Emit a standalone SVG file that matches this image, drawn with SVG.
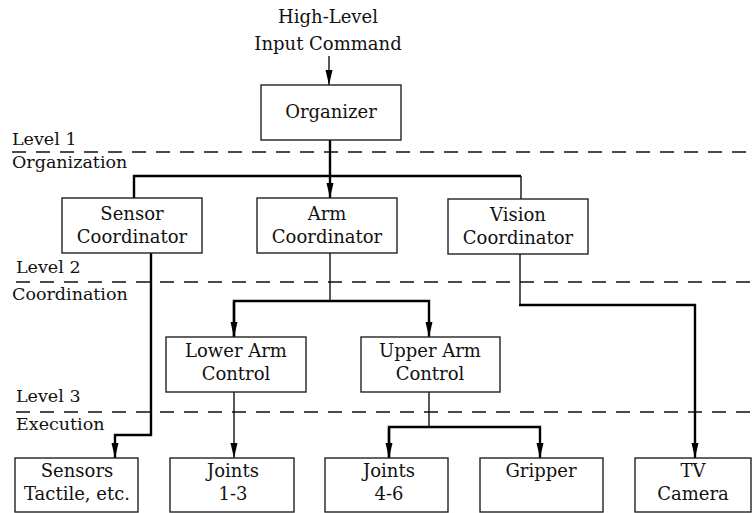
<svg xmlns="http://www.w3.org/2000/svg" width="752" height="513" viewBox="0 0 752 513">
<defs>
<marker id="arr" markerUnits="userSpaceOnUse" markerWidth="16" markerHeight="8" refX="15" refY="3.5" orient="auto">
<path d="M0,0 L15,3.5 L0,7 Z" fill="#000"/>
</marker>
</defs>
<rect width="752" height="513" fill="#fff"/>
<g id="levels" font-family="DejaVu Serif" font-size="17.5" fill="#111">
<g stroke="#111" stroke-width="1.4" stroke-dasharray="14 10" fill="none">
<line x1="12" y1="152" x2="752" y2="152"/>
<line x1="16" y1="282" x2="752" y2="282"/>
<line x1="16" y1="412" x2="752" y2="412"/>
</g>
<text x="12" y="145">Level 1</text>
<text x="12" y="168">Organization</text>
<text x="16" y="273">Level 2</text>
<text x="12" y="300">Coordination</text>
<text x="16" y="402">Level 3</text>
<text x="16" y="430">Execution</text>
</g>
<g id="input" font-family="DejaVu Serif" font-size="18" fill="#111" text-anchor="middle">
<text x="328" y="23">High-Level</text>
<text x="328" y="50">Input Command</text>
</g>
<g id="connectors" fill="none">
<g stroke="#111" stroke-width="1.4">
<line x1="329" y1="56" x2="329" y2="85" marker-end="url(#arr)"/>
<line x1="521" y1="176" x2="521" y2="199"/>
<line x1="330" y1="253" x2="330" y2="301"/>
<line x1="520" y1="254" x2="520" y2="305"/>
<line x1="234" y1="392" x2="234" y2="458" marker-end="url(#arr)"/>
<line x1="429" y1="392" x2="429" y2="427"/>
</g>
<g stroke="#000" stroke-width="2.4">
<line x1="330" y1="140" x2="330" y2="198" marker-end="url(#arr)"/>
<polyline points="134,198 134,176 521,176"/>
<polyline points="151,253 151,435 115,435 115,458" marker-end="url(#arr)"/>
<polyline points="234,337 234,301 429,301 429,337" marker-end="url(#arr)"/>
<line x1="234" y1="302" x2="234" y2="337" marker-end="url(#arr)"/>
<polyline points="519,305 695,305 695,458" marker-end="url(#arr)"/>
<polyline points="389,458 389,427 540,427 540,458" marker-end="url(#arr)"/>
<line x1="389" y1="428" x2="389" y2="458" marker-end="url(#arr)"/>
</g>
</g>
<g id="nodes" font-family="DejaVu Serif" font-size="18" fill="#111" text-anchor="middle">
<g id="organizer">
<rect x="261" y="85" width="140" height="55" fill="#fff" stroke="#222" stroke-width="1.4"/>
<text x="331" y="118">Organizer</text>
</g>
<g id="sensor-coordinator">
<rect x="62" y="198" width="140" height="55" fill="#fff" stroke="#222" stroke-width="1.4"/>
<text x="132" y="220">Sensor</text>
<text x="132" y="243">Coordinator</text>
</g>
<g id="arm-coordinator">
<rect x="257" y="198" width="140" height="55" fill="#fff" stroke="#222" stroke-width="1.4"/>
<text x="327" y="220">Arm</text>
<text x="327" y="243">Coordinator</text>
</g>
<g id="vision-coordinator">
<rect x="448" y="199" width="140" height="55" fill="#fff" stroke="#222" stroke-width="1.4"/>
<text x="518" y="221">Vision</text>
<text x="518" y="244">Coordinator</text>
</g>
<g id="lower-arm">
<rect x="166" y="337" width="140" height="55" fill="#fff" stroke="#222" stroke-width="1.4"/>
<text x="236" y="357">Lower Arm</text>
<text x="236" y="380">Control</text>
</g>
<g id="upper-arm">
<rect x="361" y="337" width="139" height="55" fill="#fff" stroke="#222" stroke-width="1.4"/>
<text x="430" y="357">Upper Arm</text>
<text x="430" y="380">Control</text>
</g>
<g id="sensors">
<rect x="15" y="458" width="123" height="54" fill="#fff" stroke="#222" stroke-width="1.4"/>
<text x="77" y="477">Sensors</text>
<text x="77" y="500">Tactile, etc.</text>
</g>
<g id="joints-1-3">
<rect x="170" y="458" width="124" height="54" fill="#fff" stroke="#222" stroke-width="1.4"/>
<text x="233" y="477">Joints</text>
<text x="233" y="500">1-3</text>
</g>
<g id="joints-4-6">
<rect x="325" y="458" width="123" height="54" fill="#fff" stroke="#222" stroke-width="1.4"/>
<text x="389" y="477">Joints</text>
<text x="389" y="500">4-6</text>
</g>
<g id="gripper">
<rect x="480" y="458" width="123" height="54" fill="#fff" stroke="#222" stroke-width="1.4"/>
<text x="541" y="477">Gripper</text>
</g>
<g id="tv-camera">
<rect x="635" y="458" width="116" height="54" fill="#fff" stroke="#222" stroke-width="1.4"/>
<text x="693" y="477">TV</text>
<text x="693" y="500">Camera</text>
</g>
</g>
</svg>
